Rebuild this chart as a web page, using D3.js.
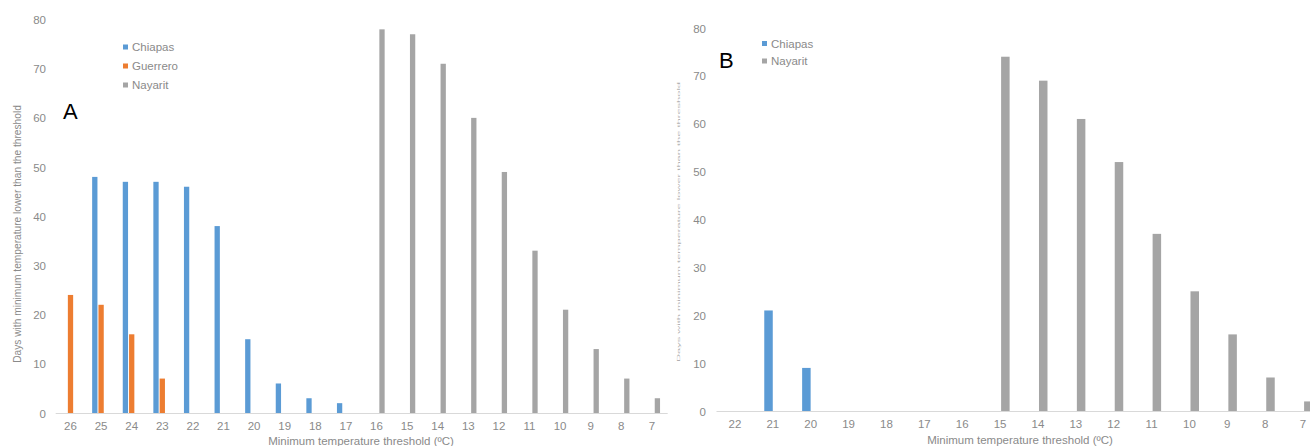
<!DOCTYPE html>
<html><head><meta charset="utf-8">
<script src="https://cdn.jsdelivr.net/npm/d3@7"></script>
<style>
html,body{margin:0;padding:0;background:#fff;}
svg text{font-family:"Liberation Sans",Arial,sans-serif;}
</style></head>
<body><svg id="c" width="1310" height="446"></svg>
<script>
// Panel A data
const catsA = ["26","25","24","23","22","21","20","19","18","17","16","15","14","13","12","11","10","9","8","7"];
const chiapasA = [null,48,47,47,46,38,15,6,3,2,null,null,null,null,null,null,null,null,null,null];
const guerreroA = [24,22,16,7,null,null,null,null,null,null,null,null,null,null,null,null,null,null,null,null];
const nayaritA = [null,null,null,null,null,null,null,null,null,null,78,77,71,60,49,33,21,13,7,3];
// Panel B data
const catsB = ["22","21","20","19","18","17","16","15","14","13","12","11","10","9","8","7"];
const chiapasB = [null,21,9,null,null,null,null,null,null,null,null,null,null,null,null,null];
const nayaritB = [null,null,null,null,null,null,null,74,69,61,52,37,25,16,7,2];
const yTicks = [0,10,20,30,40,50,60,70,80];
const xTitle = "Minimum temperature threshold (ºC)";
const yTitle = "Days with minimum temperature lower than the threshold";

const C = {blue:"#5b9bd5", orange:"#ed7d31", gray:"#a5a5a5", text:"#8a8a8a", axis:"#d9d9d9"};
const svg = d3.select("#c");

function panel(cfg){
  const g = svg.append("g");
  const x = d3.scaleBand().domain(cfg.cats).range([cfg.x0, cfg.x1]).padding(0);
  const y = d3.scaleLinear().domain([0,80]).range([cfg.y0, cfg.y80]);
  // y tick labels
  const ya = d3.axisLeft(y).tickValues(yTicks).tickSize(0).tickPadding(0);
  const yg = g.append("g").attr("transform",`translate(${cfg.yLabX},0)`).call(ya);
  yg.select(".domain").remove();
  yg.selectAll("text").attr("fill",C.text).attr("font-size",11.5).attr("dy","0.35em");
  // series
  cfg.series.forEach(s=>{
    const data = cfg.cats.map((c,i)=>({c, v:s.values[i]})).filter(d=>d.v!=null);
    g.selectAll(null).data(data).enter().append("rect")
      .attr("x",d=>x(d.c)+x.bandwidth()/2+s.off-cfg.bw/2)
      .attr("width",cfg.bw)
      .attr("y",d=>y(d.v))
      .attr("height",d=>y(0)-y(d.v))
      .attr("fill",s.color);
  });
  // x axis
  const xa = d3.axisBottom(x).tickSize(0).tickPadding(9);
  const xg = g.append("g").attr("transform",`translate(0,${cfg.y0})`).call(xa);
  xg.select(".domain").attr("stroke",C.axis).attr("stroke-width",1);
  xg.selectAll("text").attr("fill",C.text).attr("font-size",11.5);
  // x title
  g.append("text").attr("x",cfg.xTitleX).attr("y",cfg.xTitleY).attr("text-anchor","middle")
    .attr("fill",C.text).attr("font-size",11.5).text(xTitle);
  // legend
  cfg.series.forEach((s,i)=>{
    const ly = cfg.legY + i*cfg.legStep;
    g.append("rect").attr("x",cfg.legX).attr("y",ly-2.5).attr("width",5).attr("height",5).attr("fill",s.color);
    g.append("text").attr("x",cfg.legX+9).attr("y",ly).attr("dy","0.35em")
      .attr("fill",C.text).attr("font-size",11.5).text(s.name);
  });
  // panel letter
  g.append("text").attr("x",cfg.letX).attr("y",cfg.letY).attr("fill","#000")
    .attr("font-size",22).text(cfg.letter);
  return g;
}

panel({
  cats:catsA, x0:55.2, x1:667.2, y0:413, y80:19.5, yLabX:46, bw:5.3,
  series:[
    {name:"Chiapas", values:chiapasA, color:C.blue, off:-6.3},
    {name:"Guerrero", values:guerreroA, color:C.orange, off:0},
    {name:"Nayarit", values:nayaritA, color:C.gray, off:5.5}
  ],
  xTitleX:361, xTitleY:445, legX:123, legY:47, legStep:19, letter:"A", letX:63, letY:119
});
// Y title panel A
svg.append("text").attr("transform","translate(21,234) rotate(-90)").attr("text-anchor","middle")
  .attr("fill",C.text).attr("font-size",10.2).text(yTitle);

panel({
  cats:catsB, x0:716, x1:1322, y0:411, y80:28, yLabX:706, bw:8.5,
  series:[
    {name:"Chiapas", values:chiapasB, color:C.blue, off:-4.3},
    {name:"Nayarit", values:nayaritB, color:C.gray, off:5.3}
  ],
  xTitleX:1020, xTitleY:444, legX:762, legY:43.5, legStep:17.5, letter:"B", letX:719, letY:68
});
// faint compressed Y title panel B
svg.append("text").attr("transform","translate(680,222) rotate(-90) scale(1,0.35)").attr("text-anchor","middle")
  .attr("fill","#b0b0b0").attr("font-size",10.2).attr("textLength",280).attr("lengthAdjust","spacingAndGlyphs").text(yTitle);
</script></body></html>
